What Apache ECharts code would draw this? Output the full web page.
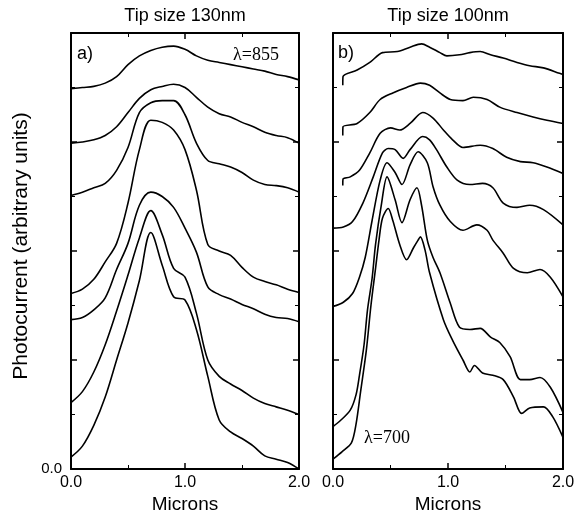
<!DOCTYPE html>
<html>
<head>
<meta charset="utf-8">
<script src="https://cdn.jsdelivr.net/npm/echarts@6/dist/echarts.min.js"></script>
<style>html,body{margin:0;padding:0;background:#fff;}#c{width:580px;height:516px;}</style>
</head>
<body>
<div id="c"></div>
<script>
// ---- Data ----
const titles = ['Tip size 130nm', 'Tip size 100nm'];
const xTickLabels = ['0.0', '1.0', '2.0'];
const yName = 'Photocurrent (arbitrary units)';
const xName = 'Microns';

// Panel a: common x grid (microns)
const xA = [0,0.1,0.2,0.3,0.4,0.5,0.6,0.7,0.8,0.9,1.0,1.1,1.2,1.3,1.4,1.5,1.6,1.7,1.8,1.9,2.0];
const a1 = [3.49,3.50,3.51,3.54,3.60,3.71,3.79,3.84,3.87,3.88,3.85,3.79,3.75,3.73,3.71,3.69,3.67,3.65,3.62,3.60,3.57];
const a2 = [2.99,3.00,3.02,3.06,3.14,3.27,3.40,3.48,3.51,3.53,3.50,3.41,3.32,3.26,3.23,3.18,3.14,3.09,3.06,3.04,2.99];
const a3 = [2.51,2.54,2.58,2.62,2.74,2.95,3.27,3.36,3.38,3.38,3.25,2.99,2.83,2.80,2.77,2.72,2.65,2.61,2.60,2.58,2.54];
const a4 = [1.61,1.65,1.74,1.90,2.07,2.44,2.93,3.20,3.18,3.11,2.93,2.56,2.06,2.00,1.96,1.85,1.76,1.72,1.69,1.65,1.62];
const a5 = [1.37,1.39,1.46,1.57,1.83,2.07,2.42,2.54,2.50,2.40,2.21,1.99,1.67,1.60,1.56,1.51,1.47,1.42,1.39,1.38,1.35];
const a6 = [0.61,0.71,0.89,1.14,1.45,1.78,2.12,2.37,2.15,1.84,1.76,1.43,1.00,0.85,0.78,0.72,0.65,0.60,0.57,0.54,0.50];
const a7 = [0.11,0.21,0.40,0.66,1.00,1.34,1.73,2.17,1.87,1.58,1.55,1.28,0.85,0.45,0.34,0.28,0.21,0.12,0.09,0.06,0.00];

// Panel b: [microns, photocurrent] pairs
const b1 = [[0.085,3.52],[0.087,3.60],[0.21,3.66],[0.32,3.73],[0.43,3.82],[0.56,3.83],[0.67,3.87],[0.77,3.90],[0.84,3.87],[0.93,3.82],[0.99,3.79],[1.10,3.80],[1.19,3.82],[1.28,3.83],[1.37,3.80],[1.48,3.77],[1.60,3.73],[1.71,3.70],[1.83,3.68],[1.97,3.63],[2.0,3.62]];
const b2 = [[0.085,3.06],[0.087,3.14],[0.21,3.17],[0.32,3.27],[0.41,3.39],[0.52,3.45],[0.64,3.50],[0.76,3.54],[0.84,3.52],[0.93,3.45],[1.02,3.39],[1.13,3.38],[1.22,3.41],[1.34,3.39],[1.45,3.32],[1.60,3.27],[1.74,3.23],[1.86,3.20],[2.0,3.17]];
const b3 = [[0.085,2.60],[0.087,2.66],[0.15,2.68],[0.23,2.74],[0.32,2.90],[0.41,3.08],[0.50,3.13],[0.58,3.11],[0.67,3.17],[0.78,3.27],[0.87,3.22],[0.96,3.11],[1.04,3.02],[1.13,2.95],[1.28,2.97],[1.39,2.94],[1.51,2.86],[1.63,2.82],[1.74,2.81],[1.86,2.77],[2.0,2.71]];
const b4 = [[0,2.21],[0.09,2.22],[0.17,2.27],[0.26,2.44],[0.35,2.68],[0.43,2.90],[0.48,2.94],[0.54,2.93],[0.61,2.85],[0.67,2.93],[0.78,3.05],[0.84,3.02],[0.90,2.93],[0.99,2.77],[1.08,2.65],[1.19,2.61],[1.30,2.62],[1.39,2.58],[1.48,2.44],[1.60,2.40],[1.71,2.42],[1.83,2.38],[2.0,2.24]];
const b5 = [[0,1.49],[0.09,1.53],[0.17,1.61],[0.23,1.76],[0.28,1.94],[0.34,2.28],[0.41,2.65],[0.47,2.81],[0.54,2.72],[0.60,2.61],[0.67,2.79],[0.74,2.91],[0.82,2.81],[0.87,2.59],[0.93,2.42],[1.02,2.27],[1.13,2.19],[1.25,2.24],[1.34,2.19],[1.39,2.10],[1.48,1.98],[1.57,1.84],[1.69,1.80],[1.80,1.83],[1.89,1.76],[2.0,1.58]];
const b6 = [[0,0.39],[0.06,0.44],[0.15,0.54],[0.20,0.68],[0.23,0.86],[0.27,1.14],[0.30,1.46],[0.34,1.75],[0.37,2.06],[0.42,2.42],[0.47,2.68],[0.54,2.47],[0.60,2.26],[0.67,2.47],[0.73,2.58],[0.77,2.42],[0.82,2.10],[0.87,1.94],[0.93,1.80],[1.02,1.52],[1.10,1.30],[1.19,1.28],[1.28,1.29],[1.37,1.21],[1.45,1.16],[1.54,1.03],[1.63,0.82],[1.71,0.82],[1.80,0.84],[1.89,0.75],[2.0,0.52]];
const b7 = [[0,0.09],[0.08,0.16],[0.16,0.24],[0.20,0.41],[0.24,0.71],[0.29,1.09],[0.33,1.50],[0.37,1.84],[0.40,2.10],[0.43,2.30],[0.48,2.39],[0.52,2.28],[0.58,2.06],[0.64,1.92],[0.70,2.03],[0.74,2.10],[0.76,2.13],[0.80,2.01],[0.84,1.80],[0.96,1.37],[1.04,1.18],[1.13,1.00],[1.19,0.89],[1.23,0.95],[1.30,0.88],[1.39,0.86],[1.48,0.82],[1.57,0.66],[1.64,0.51],[1.71,0.56],[1.83,0.57],[1.91,0.48],[2.0,0.29]];

const panelA = [a1,a2,a3,a4,a5,a6,a7];
const panelB = [b1,b2,b3,b4,b5,b6,b7];

// ---- Chart ----
const SANS = '"Liberation Sans", Arial, sans-serif';
const SERIF = '"Liberation Serif", "Times New Roman", serif';
const chart = echarts.init(document.getElementById('c'), null, {renderer: 'canvas'});

const grids = [
  {left: 71, top: 33, width: 228, height: 436},
  {left: 333, top: 33, width: 230, height: 436}
];

function xAx(gi, pos, labels) {
  return {
    type: 'value', gridIndex: gi, position: pos, min: 0, max: 2, interval: 1,
    axisLine: {show: true, onZero: false, lineStyle: {color: '#000', width: 2}},
    axisTick: {show: true, inside: true, length: 6, lineStyle: {color: '#000', width: 1.5}},
    minorTick: {show: true, splitNumber: 2, length: 4, lineStyle: {color: '#000', width: 1}},
    splitLine: {show: false},
    axisLabel: {show: labels, margin: 6, color: '#000', fontSize: 16, fontFamily: SANS,
      formatter: v => xTickLabels[Math.round(v)]}
  };
}
function yAx(gi, pos, showZero) {
  return {
    type: 'value', gridIndex: gi, position: pos, min: 0, max: 4, interval: 1,
    axisLine: {show: true, onZero: false, lineStyle: {color: '#000', width: 2}},
    axisTick: {show: true, inside: true, length: 6, lineStyle: {color: '#000', width: 1.5}},
    minorTick: {show: true, splitNumber: 2, length: 4, lineStyle: {color: '#000', width: 1}},
    splitLine: {show: false},
    axisLabel: {show: showZero, margin: 9, color: '#000', fontSize: 15, fontFamily: SANS,
      formatter: v => (v === 0 ? '0.0' : '')}
  };
}

const series = [];
panelA.forEach(ys => series.push({
  type: 'line', xAxisIndex: 0, yAxisIndex: 0, symbol: 'none', smooth: 0.35,
  lineStyle: {color: '#000', width: 1.6}, data: xA.map((x, i) => [x, ys[i]])
}));
panelB.forEach(pts => series.push({
  type: 'line', xAxisIndex: 2, yAxisIndex: 2, symbol: 'none', smooth: 0.3,
  lineStyle: {color: '#000', width: 1.6}, data: pts
}));

function txt(x, y, text, font, align, extra) {
  return Object.assign({
    type: 'text', x: x, y: y, z: 100,
    style: {text: text, font: font, fill: '#000', align: align, verticalAlign: 'middle',
      textAlign: align, textVerticalAlign: 'middle'}
  }, extra || {});
}

chart.setOption({
  animation: false,
  backgroundColor: '#fff',
  grid: grids,
  xAxis: [xAx(0, 'bottom', true), xAx(0, 'top', false), xAx(1, 'bottom', true), xAx(1, 'top', false)],
  yAxis: [yAx(0, 'left', true), yAx(0, 'right', false), yAx(1, 'left', false), yAx(1, 'right', false)],
  series: series,
  graphic: [
    txt(185, 16, titles[0], '18px ' + SANS, 'center'),
    txt(448, 16, titles[1], '18px ' + SANS, 'center'),
    txt(185, 505, xName, '19px ' + SANS, 'center'),
    txt(448, 505, xName, '19px ' + SANS, 'center'),
    txt(77, 54, 'a)', '18px ' + SANS, 'left'),
    txt(338, 53, 'b)', '18px ' + SANS, 'left'),
    txt(233, 55, 'λ=855', '18px ' + SERIF, 'left'),
    txt(364, 438, 'λ=700', '18px ' + SERIF, 'left'),
    txt(21, 246, yName, '21px ' + SANS, 'center', {rotation: Math.PI / 2}),
    {type: 'rect', z: 101, shape: {x: 0, y: 90, width: 12, height: 310}, style: {fill: '#fff'}}
  ]
});
</script>
</body>
</html>
